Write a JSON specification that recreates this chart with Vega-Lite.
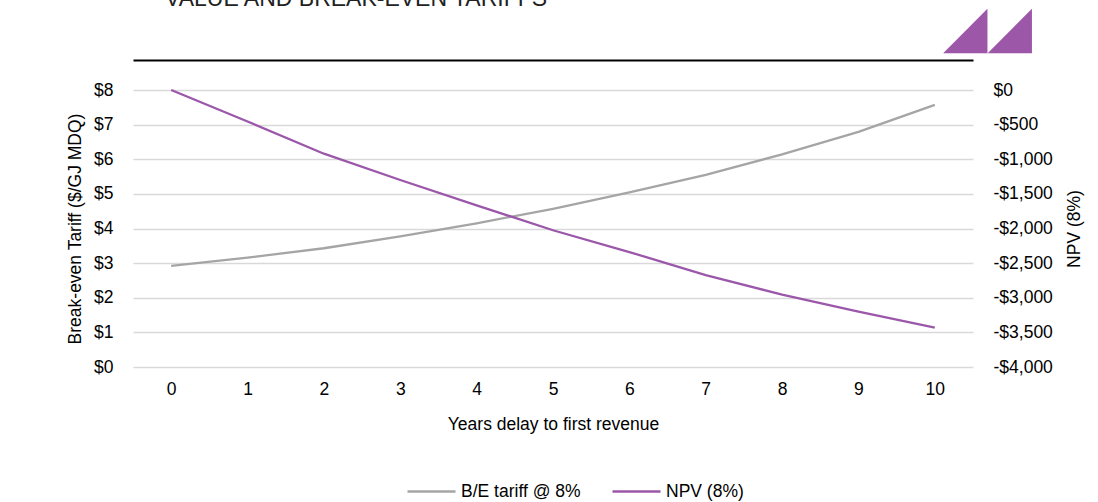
{
  "$schema": "https://vega.github.io/schema/vega-lite/v6.json",
  "width": 840,
  "height": 277,
  "autosize": {"type": "none"},
  "padding": {"left": 133, "top": 90, "right": 125, "bottom": 135},
  "background": "white",
  "config": {
    "font": "Liberation Sans",
    "view": {"stroke": null},
    "axis": {"labelFont": "Liberation Sans", "titleFont": "Liberation Sans", "labelColor": "#000000", "titleColor": "#000000", "labelFontSize": 17.5, "titleFontSize": 17.5, "titleFontWeight": "normal"}
  },
  "title": {
    "text": "VALUE AND BREAK-EVEN TARIFFS",
    "anchor": "start",
    "frame": "group",
    "font": "Liberation Sans",
    "fontSize": 23,
    "fontWeight": "normal",
    "color": "#222222",
    "baseline": "alphabetic",
    "offset": 0,
    "dy": 30,
    "dx": 32
  },
  "data": {
    "values": [
      {"year": 0, "tariff": 2.92, "npv": 0},
      {"year": 1, "tariff": 3.16, "npv": -455},
      {"year": 2, "tariff": 3.43, "npv": -920},
      {"year": 3, "tariff": 3.77, "npv": -1300},
      {"year": 4, "tariff": 4.15, "npv": -1665},
      {"year": 5, "tariff": 4.57, "npv": -2025},
      {"year": 6, "tariff": 5.04, "npv": -2340},
      {"year": 7, "tariff": 5.55, "npv": -2672},
      {"year": 8, "tariff": 6.14, "npv": -2955},
      {"year": 9, "tariff": 6.79, "npv": -3200},
      {"year": 10, "tariff": 7.57, "npv": -3432}
    ]
  },
  "layer": [
    {
      "mark": {"type": "line", "strokeWidth": 2.3},
      "encoding": {
        "x": {
          "field": "year", "type": "ordinal",
          "axis": {"orient": "bottom", "labelAngle": 0, "domain": false, "ticks": false, "grid": false, "labelPadding": 13, "title": "Years delay to first revenue", "titleY": 57, "titleBaseline": "middle"}
        },
        "y": {
          "field": "tariff", "type": "quantitative",
          "scale": {"domain": [0, 8], "nice": false, "zero": true},
          "axis": {"orient": "left", "values": [0, 1, 2, 3, 4, 5, 6, 7, 8], "labelExpr": "'$' + datum.value", "domain": false, "ticks": false, "grid": true, "gridColor": "#D9D9D9", "gridWidth": 1.5, "labelPadding": 20, "title": "Break-even Tariff ($/GJ MDQ)", "titleAngle": 270, "titleX": -58, "titleY": 138.5, "titleAlign": "center", "titleBaseline": "middle"}
        },
        "color": {
          "datum": "B/E tariff @ 8%",
          "scale": {"domain": ["B/E tariff @ 8%", "NPV (8%)"], "range": ["#A5A5A5", "#9B57A9"]},
          "legend": {"orient": "none", "legendX": 273, "legendY": 376, "direction": "horizontal", "title": null, "symbolType": "stroke", "symbolSize": 2304, "symbolStrokeWidth": 2.3, "labelFont": "Liberation Sans", "labelFontSize": 17.5, "labelColor": "#000000", "labelOffset": 4, "columnPadding": 26, "offset": 0, "padding": 0}
        }
      }
    },
    {
      "mark": {"type": "line", "strokeWidth": 2.3},
      "encoding": {
        "x": {
          "field": "year", "type": "ordinal",
          "axis": {"orient": "top", "offset": 30, "domain": true, "domainColor": "#000000", "domainWidth": 2, "ticks": false, "labels": false, "grid": false, "title": "◢◢", "titleFont": "DejaVu Sans", "titleFontSize": 58, "titleColor": "#9C57A8", "titleX": 854, "titleY": -3, "titleAlign": "center", "titleBaseline": "bottom"}
        },
        "y": {
          "field": "npv", "type": "quantitative",
          "scale": {"domain": [-4000, 0], "nice": false},
          "axis": {"orient": "right", "values": [-4000, -3500, -3000, -2500, -2000, -1500, -1000, -500, 0], "labelExpr": "datum.value < 0 ? '-$' + format(-datum.value, ',') : '$' + format(datum.value, ',')", "domain": false, "ticks": false, "grid": false, "labelPadding": 20, "title": "NPV (8%)", "titleAngle": 270, "titleX": 101, "titleY": 138.5, "titleAlign": "center", "titleBaseline": "middle"}
        },
        "color": {"datum": "NPV (8%)"}
      }
    }
  ],
  "resolve": {"scale": {"y": "independent"}, "axis": {"x": "independent", "y": "independent"}}
}
